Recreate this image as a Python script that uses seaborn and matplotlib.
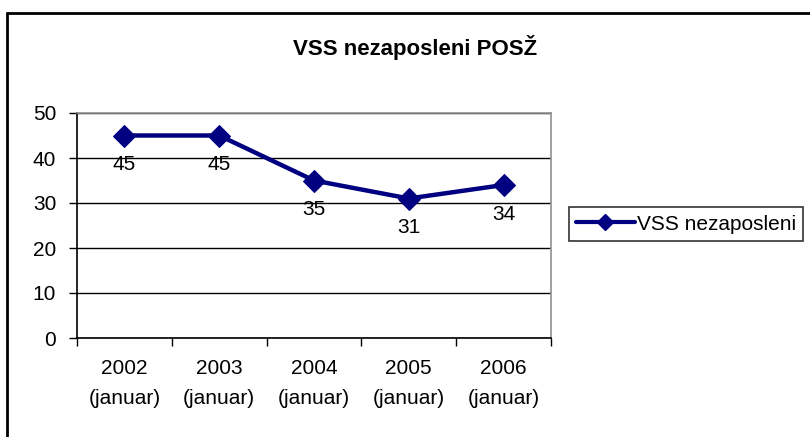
import matplotlib
matplotlib.use("Agg")
import matplotlib.pyplot as plt
import seaborn as sns
import pandas as pd
from matplotlib.lines import Line2D

categories = ["2002\n(januar)", "2003\n(januar)", "2004\n(januar)", "2005\n(januar)", "2006\n(januar)"]
values = [45, 45, 35, 31, 34]
series_name = "VSS nezaposleni"
title = "VSS nezaposleni POSŽ"

sns.set_style("white")
plt.rcParams['font.family'] = ['Liberation Sans', 'DejaVu Sans']
plt.rcParams['text.color'] = 'black'
plt.rcParams['xtick.color'] = 'black'
plt.rcParams['ytick.color'] = 'black'
plt.rcParams['axes.labelcolor'] = 'black'

FS = 15

fig = plt.figure(figsize=(8.1, 4.37), dpi=100)
ax = fig.add_axes([77/810, 1 - 338/437, (551-77)/810, (338-113)/437])

df = pd.DataFrame({"x": range(len(values)), "y": values, "s": series_name})
sns.lineplot(data=df, x="x", y="y", ax=ax, color="#000080", linewidth=3.2,
             marker="D", markersize=11, markeredgecolor="#000080", label=series_name, legend=False)

for i, v in enumerate(values):
    ax.annotate(str(v), (i, v), xytext=(0, -21), textcoords="offset points",
                ha="center", va="center", fontsize=FS, color="black")

ax.set_xlim(-0.5, len(values) - 0.5)
ax.set_ylim(0, 50)
ax.set_yticks(range(0, 51, 10))
ax.set_yticklabels([str(t) for t in range(0, 51, 10)], fontsize=FS)
ax.set_xticks([i - 0.5 for i in range(len(values) + 1)])
ax.set_xticklabels([])
ax.set_xticks(range(len(values)), minor=True)
ax.set_xticklabels(categories, minor=True, fontsize=FS, linespacing=1.75)
ax.tick_params(axis="x", which="minor", length=0, pad=15)
ax.tick_params(axis="x", which="major", direction="out", length=6, width=1, color="black", bottom=True)
ax.tick_params(axis="y", direction="out", length=6, width=1, color="black", left=True, pad=9)
ax.set_xlabel("")
ax.set_ylabel("")
ax.yaxis.grid(True, color="black", linewidth=1)
ax.set_axisbelow(True)
for side in ["top", "right"]:
    ax.spines[side].set_color("#909090")
    ax.spines[side].set_linewidth(1.2)
for side in ["left", "bottom"]:
    ax.spines[side].set_color("black")
    ax.spines[side].set_linewidth(1.2)

fig.text(415/810, 1 - 47/437, title, ha="center", va="center", fontsize=16, fontweight="bold", color="black")

handle = Line2D([], [], color="#000080", linewidth=3, marker="D", markersize=8)
leg = fig.legend([handle], [series_name], loc="center left",
                 bbox_to_anchor=(569/810, 1 - 224/437), fontsize=FS, frameon=True,
                 fancybox=False, edgecolor="black", handlelength=2.8, handletextpad=0.1,
                 borderpad=0.35, borderaxespad=0)
leg.get_frame().set_linewidth(1.2)
for t in leg.get_texts():
    t.set_color("black")

fig.add_artist(Line2D([7/810, 7/810], [0, 1 - 13/437], color="black", linewidth=2, transform=fig.transFigure))
fig.add_artist(Line2D([7/810, 1], [1 - 13/437, 1 - 13/437], color="black", linewidth=2, transform=fig.transFigure))

fig.savefig("out.png", dpi=100)
